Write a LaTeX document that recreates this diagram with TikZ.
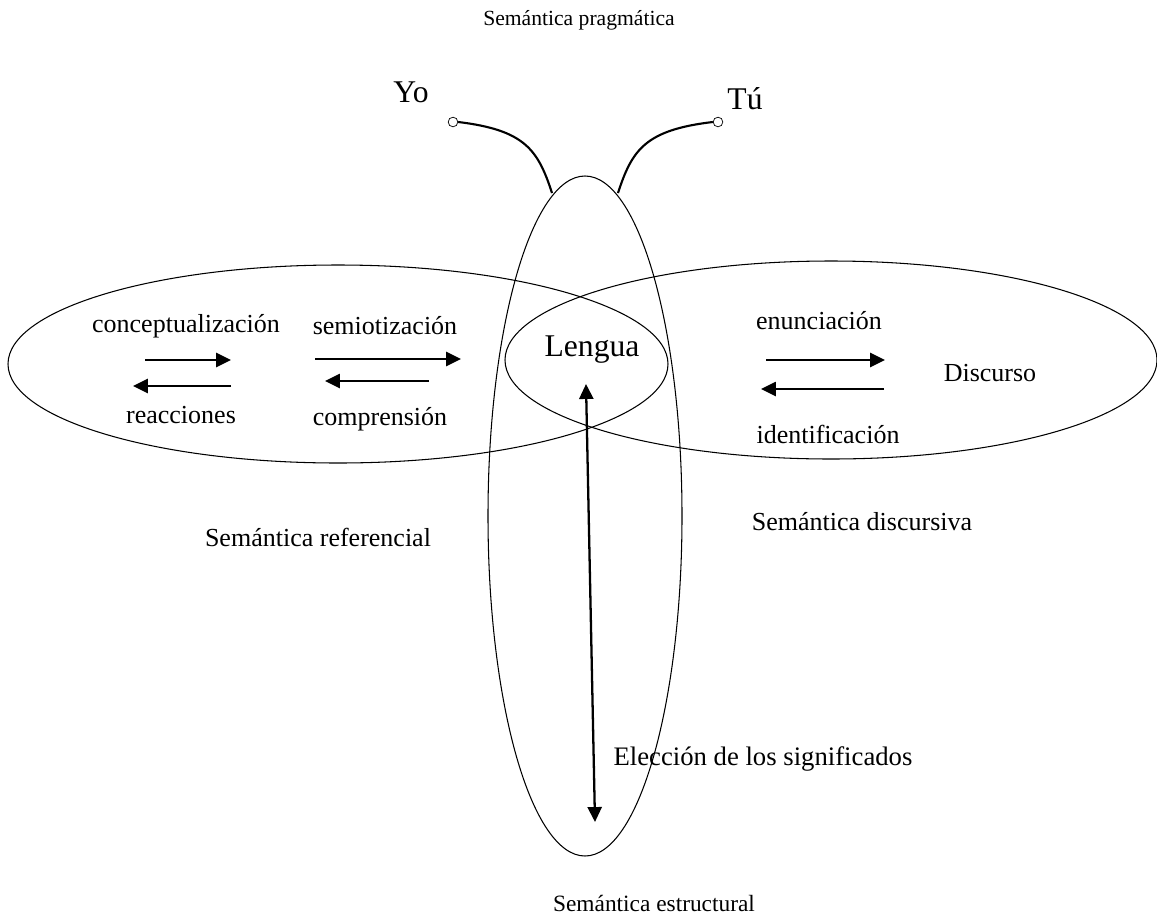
\documentclass[tikz,border=0pt]{standalone}
\usepackage{fontspec}
\setmainfont{Liberation Serif}
\usetikzlibrary{arrows.meta}
\tikzset{
  txt/.style={inner sep=0pt, font=\fontsize{14.8}{17}\selectfont},
  bigtxt/.style={inner sep=0pt, font=\fontsize{18}{21}\selectfont},
  smalltxt/.style={inner sep=0pt, font=\fontsize{12.3}{15}\selectfont},
  flow/.style={line width=1.3pt, -{Triangle[length=8.5pt, width=8pt]}},
  twoway/.style={line width=1.3pt, {Triangle[length=8.5pt, width=8pt]}-{Triangle[length=8.5pt, width=8pt]}},
  dot/.style={circle, draw, inner sep=0pt, minimum size=5.5pt, fill=white}
}
\begin{document}
\begin{tikzpicture}[x=0.02cm, y=-0.02cm]
  \useasboundingbox (0, 0) rectangle (1157, 920);
  % the three fields, Lengua is where the two flat ones overlap
  \draw [line width=0.6pt] (338, 364) ellipse [x radius=330, y radius=99];
  \draw [line width=0.6pt] (831, 360) ellipse [x radius=326, y radius=99];
  \draw [line width=0.6pt] (585, 516) ellipse [x radius=97, y radius=340];
  % speakers
  \node (yo) at (411, 92) [bigtxt] {Yo};
  \node (tu) at (745, 99) [bigtxt] {Tú};
  \node (yodot) at (453, 122) [dot] {};
  \node (tudot) at (718, 122) [dot] {};
  \coordinate (yoend) at (552, 193);
  \coordinate (tuend) at (618, 193);
  \draw [line width=1.2pt] (yodot.east) .. controls (525, 130) and (538, 150) .. (yoend);
  \draw [line width=1.2pt] (tudot.west) .. controls (645, 130) and (632, 150) .. (tuend);
  % titles
  \node (prag) at (579, 20) [smalltxt] {Semántica pragmática};
  \node (refer) at (318, 537) [txt] {Semántica referencial};
  \node (disc) at (862, 522) [txt] {Semántica discursiva};
  \node (estr) at (654, 903) [smalltxt, font=\fontsize{13.3}{15}\selectfont] {Semántica estructural};
  % inside the fields
  \node (lengua) at (592, 350) [bigtxt] {Lengua};
  \node (discurso) at (990, 373) [txt] {Discurso};
  \node (concep) at (186, 326) [txt] {conceptualización};
  \node (reac) at (181, 415) [txt] {reacciones};
  \node (semio) at (385, 326) [txt] {semiotización};
  \node (compr) at (380, 419) [txt] {comprensión};
  \node (enunc) at (819, 321) [txt] {enunciación};
  \node (ident) at (828, 434) [txt] {identificación};
  \node (elec) at (763, 759) [txt, font=\fontsize{15.2}{17}\selectfont] {Elección de los significados};
  % arrows
  \coordinate (c1) at (145, 360); \coordinate (c2) at (231, 360);
  \coordinate (r1) at (231, 386); \coordinate (r2) at (133, 386);
  \coordinate (s1) at (315, 359); \coordinate (s2) at (461, 359);
  \coordinate (p1) at (429, 381); \coordinate (p2) at (325, 381);
  \coordinate (e1) at (766, 360); \coordinate (e2) at (885, 360);
  \coordinate (i1) at (884, 389); \coordinate (i2) at (761, 389);
  \coordinate (up) at (586, 384); \coordinate (down) at (595, 822);
  \draw [flow] (c1) -- (c2);
  \draw [flow] (r1) -- (r2);
  \draw [flow] (s1) -- (s2);
  \draw [flow] (p1) -- (p2);
  \draw [flow] (e1) -- (e2);
  \draw [flow] (i1) -- (i2);
  \draw [twoway] (up) -- (down);
\end{tikzpicture}
\end{document}
